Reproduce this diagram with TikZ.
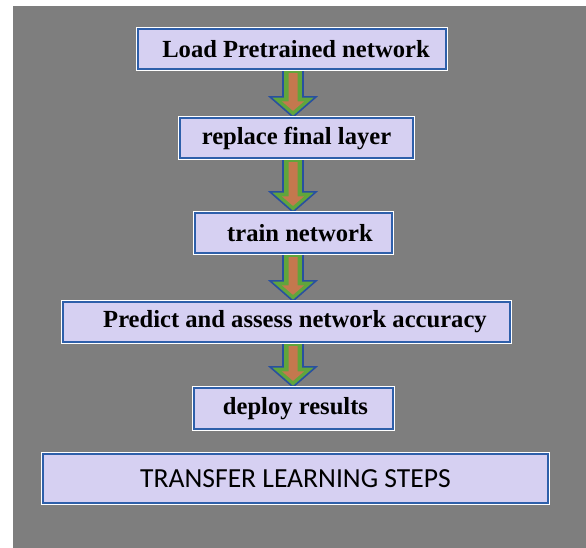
\documentclass[tikz,border=0pt]{standalone}
\usepackage{fontspec}
\setmainfont{Liberation Serif}
\newfontfamily\calfont{Carlito}
\usetikzlibrary{calc}
\definecolor{bggray}{RGB}{126,126,126}
\definecolor{boxfill}{RGB}{214,208,242}
\definecolor{boxblue}{RGB}{46,95,170}
\definecolor{arrblue}{RGB}{40,80,160}
\definecolor{arrgreen}{RGB}{96,165,60}
\definecolor{arrorange}{RGB}{196,120,78}
\pgfdeclarelayer{back}
\pgfdeclarelayer{arrows}
\pgfsetlayers{back,arrows,main}
\tikzset{
  stepbox/.style={draw=boxblue, line width=2.2pt, fill=boxfill, inner sep=0pt,
    preaction={draw=white, line width=4.2pt},
    font=\bfseries\fontsize{24.6}{28}\selectfont, text=black},
  titlebox/.style={stepbox, font=\calfont\fontsize{27.6}{32}\selectfont},
  arrouter/.style={draw=arrblue, line width=1.6pt, fill=arrgreen, line join=miter},
  arrinner/.style={fill=arrorange, draw=none}
}
\newcommand\fatarrow[2]{%
  \draw[arrouter] let \p1=(#1.south), \p2=(#2.north) in
    (283pt,\y1) -- (303pt,\y1) -- (303pt,\y2+20pt) -- (316pt,\y2+20pt) -- (293pt,\y2)
    -- (270pt,\y2+20pt) -- (283pt,\y2+20pt) -- cycle;
  \fill[arrinner] let \p1=(#1.south), \p2=(#2.north) in
    (288.5pt,\y1-3pt) -- (297.5pt,\y1-3pt) -- (297.5pt,\y2+15.5pt) -- (304pt,\y2+15.5pt) -- (293pt,\y2+6pt)
    -- (282pt,\y2+15.5pt) -- (288.5pt,\y2+15.5pt) -- cycle;
}
\begin{document}
\begin{tikzpicture}[x=1pt,y=-1pt]
\useasboundingbox (0,0) rectangle (586,548);
\begin{pgfonlayer}{back}
  \fill[white] (0,0) rectangle (586,548);
  \fill[bggray] (13,6) rectangle (586,548);
\end{pgfonlayer}
\node[stepbox, minimum width=308pt, minimum height=40pt] (b1) at (292,49) {\hspace*{8pt}Load Pretrained network};
\node[stepbox, minimum width=233pt, minimum height=40pt] (b2) at (296.5,138) {replace final layer};
\node[stepbox, minimum width=197pt, minimum height=40pt] (b3) at (293.5,233) {\hspace*{13pt}train network};
\node[stepbox, minimum width=447pt, minimum height=40pt] (b4) at (286.5,322) {\hspace*{17pt}Predict and assess network accuracy};
\node[stepbox, minimum width=199pt, minimum height=41pt] (b5) at (293.5,408.5) {\hspace*{4pt}deploy results};
\node[titlebox, minimum width=505pt, minimum height=49pt] (b6) at (295.5,478.5) {TRANSFER LEARNING STEPS};
\begin{pgfonlayer}{arrows}
  \fatarrow{b1}{b2}
  \fatarrow{b2}{b3}
  \fatarrow{b3}{b4}
  \fatarrow{b4}{b5}
\end{pgfonlayer}
\end{tikzpicture}
\end{document}
